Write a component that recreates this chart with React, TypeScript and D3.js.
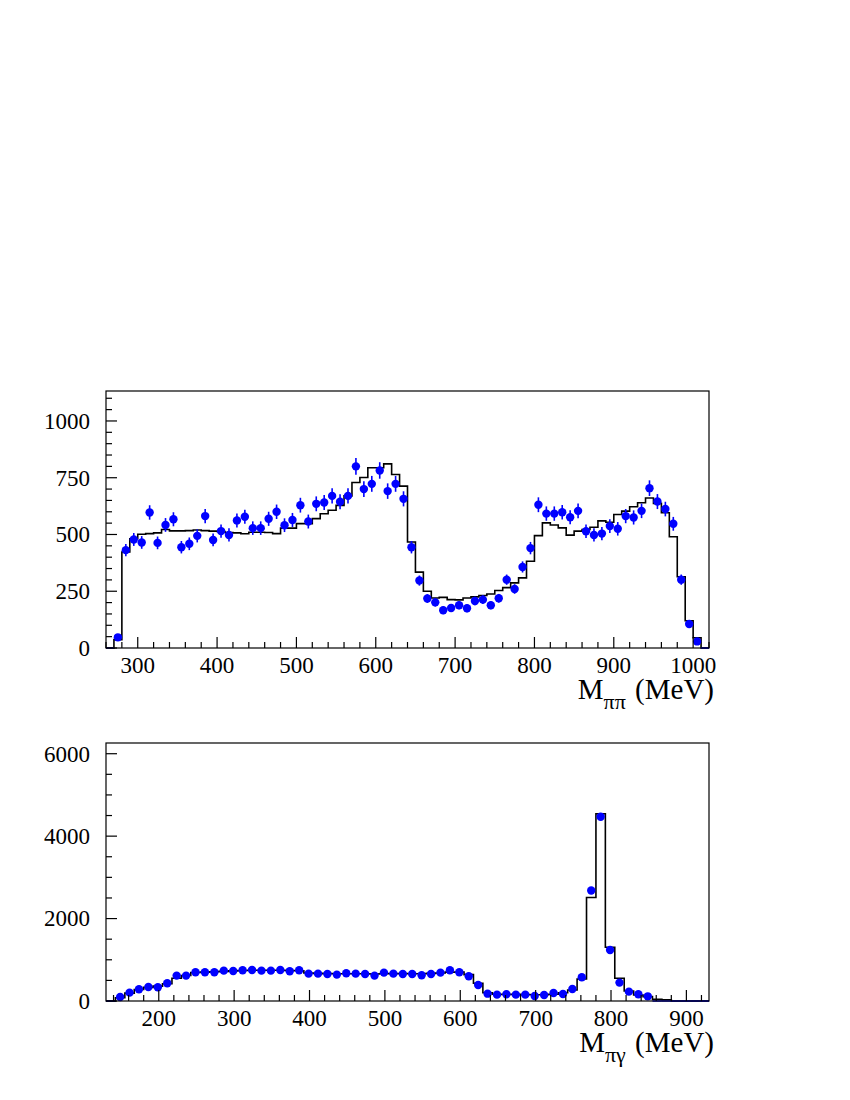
import * as d3 from "d3";

// M(pi pi) spectrum: 10 MeV bins from 260 MeV
const pipiBinStart = 260;
const pipiBinWidth = 10;
const pipiData = [
  0, 47, 431, 478, 465, 597, 463, 542, 567, 444, 459, 494, 581, 476, 515, 498, 562, 578, 528, 528,
  569, 600, 541, 564, 629, 557, 635, 641, 670, 644, 670, 800, 700, 723, 782, 691, 723, 657, 444, 297,
  218, 201, 166, 176, 188, 175, 207, 213, 188, 219, 301, 260, 357, 440, 631, 592, 592, 598, 576, 604,
  514, 498, 504, 537, 525, 581, 575, 604, 704, 645, 612, 547, 301, 106, 29, 0,
];
const pipiFit = [
  0, 37, 423, 481, 501, 504, 507, 522, 516, 516, 517, 520, 517, 515, 513, 509, 507, 503, 510, 510,
  509, 504, 528, 528, 548, 548, 570, 591, 607, 628, 670, 729, 751, 794, 794, 811, 764, 713, 467, 334,
  250, 220, 223, 213, 212, 220, 225, 231, 238, 253, 266, 287, 309, 382, 495, 551, 542, 529, 497, 515,
  522, 532, 560, 554, 588, 603, 622, 640, 661, 637, 596, 490, 314, 120, 45, 0,
];
const pipiXTicks = [300, 400, 500, 600, 700, 800, 900, 1000];
const pipiYTicks = [0, 250, 500, 750, 1000];

// M(pi gamma) spectrum: 12.5 MeV bins from 130 MeV
const pigamBinStart = 130;
const pigamBinWidth = 12.5;
const pigamData = [
  0, 97, 203, 284, 340, 332, 429, 616, 616, 697, 697, 697, 737, 729, 745, 753, 737, 737, 753, 721,
  745, 664, 664, 656, 640, 672, 664, 656, 616, 689, 664, 656, 656, 624, 656, 689, 745, 697, 599, 389,
  178, 154, 162, 154, 154, 122, 146, 194, 170, 292, 575, 2681, 4471, 1239, 446, 227, 162, 113, 0, 0,
  0, 0, 0, 0,
];
const pigamFit = [
  0, 80, 190, 280, 330, 360, 420, 551, 620, 690, 700, 710, 720, 730, 740, 745, 745, 745, 745, 740,
  735, 680, 670, 665, 660, 660, 660, 660, 655, 660, 665, 665, 660, 660, 670, 680, 700, 700, 640, 430,
  200, 165, 160, 160, 155, 150, 150, 165, 200, 267, 535, 2511, 4544, 1304, 551, 243, 146, 105, 40, 30,
  0, 0, 0, 0,
];
const pigamXTicks = [200, 300, 400, 500, 600, 700, 800, 900];
const pigamYTicks = [0, 2000, 4000, 6000];

const FONT = "'Liberation Serif', 'Times New Roman', serif";
const BLUE = "#0000ff";
const LEFT = 106;
const RIGHT = 709;

type PanelProps = {
  data: number[];
  fit: number[];
  binStart: number;
  binWidth: number;
  xDomain: [number, number];
  yMax: number;
  top: number;
  bottom: number;
  xTicks: number[];
  yTicks: number[];
  xMinor: number;
  yMinor: number;
  yMinorMax: number;
  sub: string;
};

const Panel = (p: PanelProps) => {
  const x = d3.scaleLinear().domain(p.xDomain).range([LEFT, RIGHT]);
  const y = d3.scaleLinear().domain([0, p.yMax]).range([p.bottom, p.top]);

  const xMinorTicks = d3
    .range(Math.ceil(p.xDomain[0] / p.xMinor) * p.xMinor, p.xDomain[1] + 0.01, p.xMinor)
    .filter((t) => !p.xTicks.includes(t));
  const yMinorTicks = d3.range(0, p.yMinorMax + 0.01, p.yMinor).filter((t) => !p.yTicks.includes(t));

  // histogram as a step line over bin edges
  const steps: [number, number][] = p.fit.map((v, i) => [p.binStart + i * p.binWidth, v]);
  steps.push([p.binStart + p.fit.length * p.binWidth, p.fit[p.fit.length - 1]]);
  const stepLine = d3
    .line<[number, number]>()
    .x((d) => x(d[0]))
    .y((d) => y(d[1]))
    .curve(d3.curveStepAfter);

  return (
    <g>
      <path d={stepLine(steps) ?? ""} fill="none" stroke="#000" strokeWidth={1.6} />

      {/* data points with error bars; empty bins drawn as a flat line */}
      {p.data.map((v, i) => {
        const lo = p.binStart + i * p.binWidth;
        const cx = x(lo + p.binWidth / 2);
        if (v <= 0) {
          return (
            <line key={i} x1={x(lo)} x2={x(lo + p.binWidth)} y1={y(0)} y2={y(0)} stroke={BLUE} strokeWidth={1.5} />
          );
        }
        const err = 1.3 * Math.sqrt(v); // Poisson-like error
        return (
          <g key={i}>
            <line x1={cx} x2={cx} y1={y(v - err)} y2={y(v + err)} stroke={BLUE} strokeWidth={1.6} />
            <circle cx={cx} cy={y(v)} r={4.2} fill={BLUE} />
          </g>
        );
      })}

      <rect x={LEFT} y={p.top} width={RIGHT - LEFT} height={p.bottom - p.top} fill="none" stroke="#000" strokeWidth={1.2} />

      {/* x axis ticks */}
      {p.xTicks.map((t) => (
        <g key={"xt" + t}>
          <line x1={x(t)} x2={x(t)} y1={p.bottom} y2={p.bottom - 11} stroke="#000" strokeWidth={1.2} />
          <text x={x(t)} y={p.bottom + 25} textAnchor="middle" fontFamily={FONT} fontSize={23}>
            {t}
          </text>
        </g>
      ))}
      {xMinorTicks.map((t) => (
        <line key={"xm" + t} x1={x(t)} x2={x(t)} y1={p.bottom} y2={p.bottom - 6} stroke="#000" strokeWidth={1.2} />
      ))}

      {/* y axis ticks */}
      {p.yTicks.map((t) => (
        <g key={"yt" + t}>
          <line x1={LEFT} x2={LEFT + 11} y1={y(t)} y2={y(t)} stroke="#000" strokeWidth={1.2} />
          <text x={90} y={y(t)} dy="0.34em" textAnchor="end" fontFamily={FONT} fontSize={23}>
            {t}
          </text>
        </g>
      ))}
      {yMinorTicks.map((t) => (
        <line key={"ym" + t} x1={LEFT} x2={LEFT + 6} y1={y(t)} y2={y(t)} stroke="#000" strokeWidth={1.2} />
      ))}

      <text x={714} y={p.bottom + 51} textAnchor="end" fontFamily={FONT} fontSize={29}>
        M
        <tspan fontSize={22} dy={10}>
          {p.sub}
        </tspan>
        <tspan dy={-10} dx={2}> (MeV)</tspan>
      </text>
    </g>
  );
};

export default function App() {
  return (
    <svg
      width={850}
      height={1100}
      viewBox="0 0 850 1100"
      style={{ position: "absolute", left: 0, top: 0, background: "#fff" }}
    >
      <rect width={850} height={1100} fill="#fff" />
      <Panel
        data={pipiData}
        fit={pipiFit}
        binStart={pipiBinStart}
        binWidth={pipiBinWidth}
        xDomain={[260, 1020]}
        yMax={1132}
        top={391}
        bottom={648}
        xTicks={pipiXTicks}
        yTicks={pipiYTicks}
        xMinor={20}
        yMinor={50}
        yMinorMax={1100}
        sub="ππ"
      />
      <Panel
        data={pigamData}
        fit={pigamFit}
        binStart={pigamBinStart}
        binWidth={pigamBinWidth}
        xDomain={[130, 930]}
        yMax={6260}
        top={743}
        bottom={1001}
        xTicks={pigamXTicks}
        yTicks={pigamYTicks}
        xMinor={20}
        yMinor={500}
        yMinorMax={6000}
        sub="πγ"
      />
    </svg>
  );
}
